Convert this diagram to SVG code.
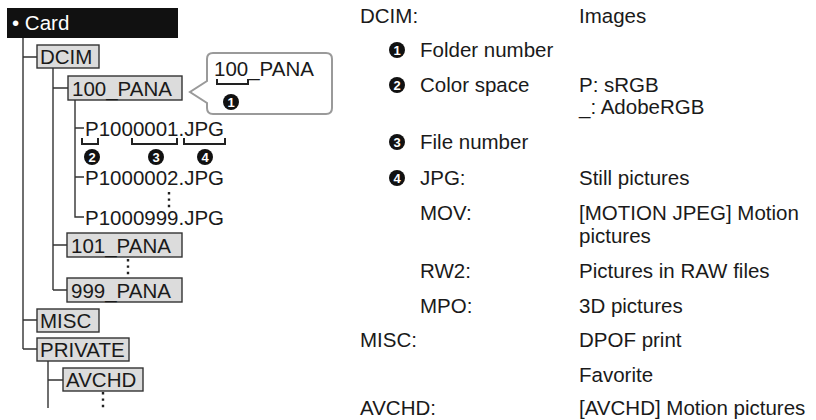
<svg xmlns="http://www.w3.org/2000/svg" width="816" height="420" viewBox="0 0 816 420">
<style>
text{font-family:"Liberation Sans",Arial,sans-serif;font-size:20.5px;fill:#1a1a1a}
.box{fill:#dcdcdc;stroke:#333;stroke-width:1.4}
.ln{fill:none;stroke:#333;stroke-width:1.4}
.br{fill:none;stroke:#222;stroke-width:2}
.dots{fill:none;stroke:#222;stroke-width:2.4;stroke-dasharray:2.4 4}
.nc{fill:#111}
text.nt{font-size:13px;font-weight:bold;fill:#fff;text-anchor:middle}
</style>
<defs>
<g id="c1"><circle class="nc" r="8"/><text class="nt" x="0" y="4.7">1</text></g>
<g id="c2"><circle class="nc" r="8"/><text class="nt" x="0" y="4.7">2</text></g>
<g id="c3"><circle class="nc" r="8"/><text class="nt" x="0" y="4.7">3</text></g>
<g id="c4"><circle class="nc" r="8"/><text class="nt" x="0" y="4.7">4</text></g>
</defs>

<g id="connectors">
<path class="ln" d="M23 38V349M23 57H37M23 320H37M23 349H37"/>
<path class="ln" d="M53 68V290M53 88H68M53 245H67M53 290H67"/>
<path class="ln" d="M75 100V217H84M75 128H84M75 177H84"/>
<path class="ln" d="M48 361V408M48 380H63"/>
<path class="dots" d="M169 192V209"/>
<path class="dots" d="M128 259V276"/>
<path class="dots" d="M103 392V409"/>
</g>

<g id="card">
<rect x="7" y="8" width="171" height="30" fill="#111"/>
<text x="12" y="30" style="fill:#fff">• Card</text>
</g>
<g id="dcim"><rect class="box" x="37" y="45" width="62" height="23"/><text x="40" y="64">DCIM</text></g>
<g id="pana100"><rect class="box" x="68" y="76" width="114" height="24"/><text x="72" y="95.5">100_PANA</text></g>
<g id="file1">
<text x="85" y="136">P1000001.JPG</text>
<path class="br" d="M82 138V144H98V138M132 138V144H177V138M184 138V144H225V138"/>
<use href="#c2" x="92" y="157"/><use href="#c3" x="156" y="157"/><use href="#c4" x="205" y="157"/>
</g>
<g id="file2"><text x="85" y="185">P1000002.JPG</text></g>
<g id="file999"><text x="85" y="225">P1000999.JPG</text></g>
<g id="pana101"><rect class="box" x="67" y="233" width="115" height="24"/><text x="71" y="252.5">101_PANA</text></g>
<g id="pana999"><rect class="box" x="67" y="278" width="115" height="24"/><text x="71" y="297.5">999_PANA</text></g>
<g id="misc"><rect class="box" x="37" y="309" width="62" height="23"/><text x="40" y="328">MISC</text></g>
<g id="private"><rect class="box" x="37" y="338" width="92" height="23"/><text x="40" y="357">PRIVATE</text></g>
<g id="avchd"><rect class="box" x="63" y="368" width="80" height="23"/><text x="66" y="387">AVCHD</text></g>

<g id="callout">
<path d="M213 53H326Q332 53 332 59V108Q332 114 326 114H213Q207 114 207 108V103L190 92L207 81V59Q207 53 213 53Z" fill="#fff" stroke="#9a9a9a" stroke-width="2"/>
<text x="214" y="76">100_PANA</text>
<path class="br" d="M217 79V84H248V79"/>
<use href="#c1" x="231" y="102"/>
</g>

<g id="legend">
<text x="360" y="23">DCIM:</text><text x="579" y="23">Images</text>
<use href="#c1" x="397" y="50"/><use href="#c2" x="397" y="85"/><use href="#c3" x="397" y="142"/><use href="#c4" x="397" y="178"/>
<text x="420" y="57">Folder number</text>
<text x="420" y="92">Color space</text><text x="579" y="92">P: sRGB</text>
<text x="579" y="114">_: AdobeRGB</text>
<text x="420" y="149">File number</text>
<text x="420" y="185">JPG:</text><text x="579" y="185">Still pictures</text>
<text x="420" y="220">MOV:</text><text x="579" y="220">[MOTION JPEG] Motion</text>
<text x="579" y="243">pictures</text>
<text x="420" y="278">RW2:</text><text x="579" y="278">Pictures in RAW files</text>
<text x="420" y="313">MPO:</text><text x="579" y="313">3D pictures</text>
<text x="360" y="347">MISC:</text><text x="579" y="347">DPOF print</text>
<text x="579" y="382">Favorite</text>
<text x="360" y="415">AVCHD:</text><text x="579" y="415">[AVCHD] Motion pictures</text>
</g>
</svg>
